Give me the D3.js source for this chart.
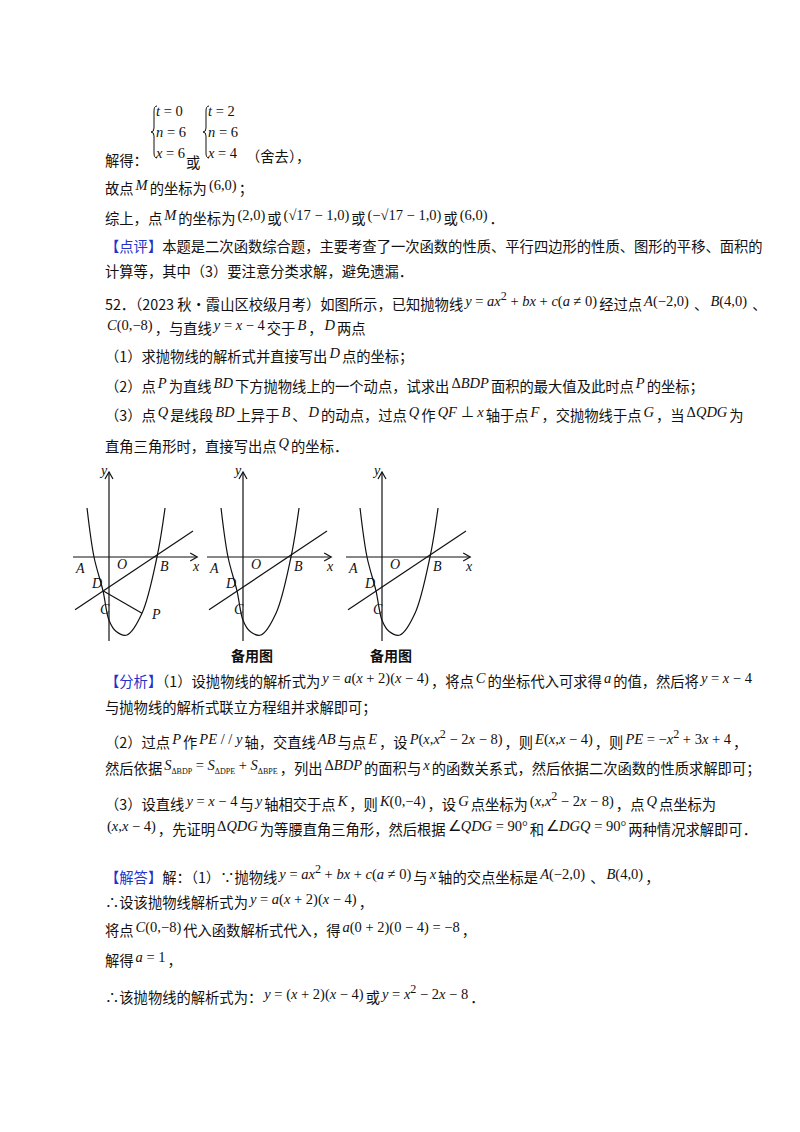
<!DOCTYPE html>
<html>
<head>
<meta charset="utf-8">
<title>52题</title>
<style>
  body { margin:0; width:800px; height:1132px; background:#fff; position:relative;
         font-family:"Noto Sans CJK SC", sans-serif; font-size:14.3px; color:#111; }
  .ln { position:absolute; left:105px; white-space:nowrap; line-height:20px; }
  .m { font-family:"Liberation Serif", serif; font-size:14.5px; position:relative; top:-4px; padding:0 2px; }
  .m i { font-style:italic; }
  .tag { color:#2233cc; }
  .fig text { font-family:"Liberation Serif", serif; font-style:italic; font-size:14px; fill:#111; }
  .fig .cap { font-family:"Noto Sans CJK SC", sans-serif; font-style:normal; font-size:14px; font-weight:bold; }
</style>
<script src="https://d3js.org/d3.v7.min.js"></script>
</head>
<body>
<script>
// text lines: [top, html]
var lines = [
  [150, '解得：'],
  [178, '故点<span class="m"><i>M</i></span>的坐标为<span class="m">(6,0)</span>；'],
  [208, '综上，点<span class="m"><i>M</i></span>的坐标为<span class="m">(2,0)</span>或<span class="m">(√17 − 1,0)</span>或<span class="m">(−√17 − 1,0)</span>或<span class="m">(6,0)</span>．'],
  [236, '<span class="tag">【点评】</span>本题是二次函数综合题，主要考查了一次函数的性质、平行四边形的性质、图形的平移、面积的'],
  [261, '计算等，其中（3）要注意分类求解，避免遗漏．'],
  [290, '52．（2023 秋•霞山区校级月考）如图所示，已知抛物线<span class="m"><i>y</i> = <i>ax</i><sup>2</sup> + <i>bx</i> + <i>c</i>(<i>a</i> ≠ 0)</span>经过点<span class="m"><i>A</i>(−2,0)</span> 、<span class="m"><i>B</i>(4,0)</span> 、'],
  [318, '<span class="m"><i>C</i>(0,−8)</span>，与直线<span class="m"><i>y</i> = <i>x</i> − 4</span>交于<span class="m"><i>B</i></span>，<span class="m"><i>D</i></span>两点'],
  [346, '（1）求抛物线的解析式并直接写出<span class="m"><i>D</i></span>点的坐标；'],
  [376, '（2）点<span class="m"><i>P</i></span>为直线<span class="m"><i>BD</i></span>下方抛物线上的一个动点，试求出<span class="m">Δ<i>BDP</i></span>面积的最大值及此时点<span class="m"><i>P</i></span>的坐标；'],
  [405, '（3）点<span class="m"><i>Q</i></span>是线段<span class="m"><i>BD</i></span>上异于<span class="m"><i>B</i></span>、<span class="m"><i>D</i></span>的动点，过点<span class="m"><i>Q</i></span>作<span class="m"><i>QF</i> ⊥ <i>x</i></span>轴于点<span class="m"><i>F</i></span>，交抛物线于点<span class="m"><i>G</i></span>，当<span class="m">Δ<i>QDG</i></span>为'],
  [436, '直角三角形时，直接写出点<span class="m"><i>Q</i></span>的坐标．'],
  [671, '<span class="tag">【分析】</span>（1）设抛物线的解析式为<span class="m"><i>y</i> = <i>a</i>(<i>x</i> + 2)(<i>x</i> − 4)</span>，将点<span class="m"><i>C</i></span>的坐标代入可求得<span class="m"><i>a</i></span>的值，然后将<span class="m"><i>y</i> = <i>x</i> − 4</span>'],
  [697, '与抛物线的解析式联立方程组并求解即可；'],
  [728, '（2）过点<span class="m"><i>P</i></span>作<span class="m"><i>PE</i> / / <i>y</i></span>轴，交直线<span class="m"><i>AB</i></span>与点<span class="m"><i>E</i></span>，设<span class="m"><i>P</i>(<i>x</i>,<i>x</i><sup>2</sup> − 2<i>x</i> − 8)</span>，则<span class="m"><i>E</i>(<i>x</i>,<i>x</i> − 4)</span>，则<span class="m"><i>PE</i> = −<i>x</i><sup>2</sup> + 3<i>x</i> + 4</span>，'],
  [758, '然后依据<span class="m"><i>S</i><sub style="font-size:8px">ΔBDP</sub> = <i>S</i><sub style="font-size:8px">ΔDPE</sub> + <i>S</i><sub style="font-size:8px">ΔBPE</sub></span>，列出<span class="m">Δ<i>BDP</i></span>的面积与<span class="m"><i>x</i></span>的函数关系式，然后依据二次函数的性质求解即可；'],
  [790, '（3）设直线<span class="m"><i>y</i> = <i>x</i> − 4</span>与<span class="m"><i>y</i></span>轴相交于点<span class="m"><i>K</i></span>，则<span class="m"><i>K</i>(0,−4)</span>，设<span class="m"><i>G</i></span>点坐标为<span class="m">(<i>x</i>,<i>x</i><sup>2</sup> − 2<i>x</i> − 8)</span>，点<span class="m"><i>Q</i></span>点坐标为'],
  [819, '<span class="m">(<i>x</i>,<i>x</i> − 4)</span>，先证明<span class="m">Δ<i>QDG</i></span>为等腰直角三角形，然后根据<span class="m">∠<i>QDG</i> = 90°</span>和<span class="m">∠<i>DGQ</i> = 90°</span>两种情况求解即可．'],
  [863, '<span class="tag">【解答】</span>解：（1）∵抛物线<span class="m"><i>y</i> = <i>ax</i><sup>2</sup> + <i>bx</i> + <i>c</i>(<i>a</i> ≠ 0)</span>与<span class="m"><i>x</i></span>轴的交点坐标是<span class="m"><i>A</i>(−2,0)</span> 、<span class="m"><i>B</i>(4,0)</span>，'],
  [892, '∴设该抛物线解析式为<span class="m"><i>y</i> = <i>a</i>(<i>x</i> + 2)(<i>x</i> − 4)</span>，'],
  [920, '将点<span class="m"><i>C</i>(0,−8)</span>代入函数解析式代入，得<span class="m"><i>a</i>(0 + 2)(0 − 4) = −8</span>，'],
  [950, '解得<span class="m"><i>a</i> = 1</span>，'],
  [983, '∴该抛物线的解析式为：<span class="m"><i>y</i> = (<i>x</i> + 2)(<i>x</i> − 4)</span>或<span class="m"><i>y</i> = <i>x</i><sup>2</sup> − 2<i>x</i> − 8</span>．']
];

var braceRows = [["<i>t</i> = 0", "<i>n</i> = 6", "<i>x</i> = 6"], ["<i>t</i> = 2", "<i>n</i> = 6", "<i>x</i> = 4"]];
var braceLefts = [150, 202];

// figure data (units of the drawn picture, not to scale)
var parabolaX = [-1.83, -1.25, -0.5, 0, 0.6, 1.5, 2.75, 4, 4.67];
var parabolaY = [5.65, 0, -3.9, -7.3, -8.6, -9, -6.5, 0, 5.65];
var lineX = [-2.83, 7];
var lineY = [-6.1, 3.0];
var pointD = [-0.5, -3.9], pointP = [2.75, -6.5];
var panelOrigins = [109, 243, 382];
var captions = ["", "备用图", "备用图"];

d3.select("body").selectAll("div.ln").data(lines).enter().append("div")
  .attr("class", "ln").style("top", function(d){ return d[0] + "px"; })
  .html(function(d){ return d[1]; });

// svg overlay for braces and figures
var svg = d3.select("body").append("svg").attr("class","fig")
  .style("position","absolute").style("left","0").style("top","0")
  .attr("width",800).attr("height",680);

// brace systems
braceRows.forEach(function(rows, k) {
  var left = braceLefts[k];
  var b = d3.select("body").append("div").style("position","absolute")
    .style("left", (left + 6) + "px").style("top", "101px")
    .style("font-family","Liberation Serif, serif").style("font-size","14.5px").style("line-height","21px");
  rows.forEach(function(r){ b.append("div").html(r); });
  var t = 106, bt = 158, mid = (t + bt) / 2, x = left + 4;
  svg.append("path").attr("fill","none").attr("stroke","#111").attr("stroke-width",1)
    .attr("d", "M" + (x+3) + "," + t + "Q" + x + "," + t + " " + x + "," + (t+5) +
      "L" + x + "," + (mid-4) + "Q" + x + "," + mid + " " + (x-3) + "," + mid +
      "Q" + x + "," + mid + " " + x + "," + (mid+4) + "L" + x + "," + (bt-5) +
      "Q" + x + "," + bt + " " + (x+3) + "," + bt);
});
d3.select("body").append("div").attr("class","ln").style("left","186px").style("top","152px").text("或");
d3.select("body").append("div").attr("class","ln").style("left","246px").style("top","146px").text("（舍去），");

var yS = d3.scaleLinear().domain([0, -9]).range([557, 635]);
var pts = parabolaX.map(function(x,i){ return [x, parabolaY[i]]; });
var linePts = lineX.map(function(x,i){ return [x, lineY[i]]; });

panelOrigins.forEach(function(ox, i) {
  var xS = d3.scaleLinear().domain([0, 4]).range([ox, ox + 48]);
  var g = svg.append("g").attr("fill","none").attr("stroke","#111").attr("stroke-width",1.2);
  var ln = d3.line().x(function(d){ return xS(d[0]); }).y(function(d){ return yS(d[1]); });
  // axes
  g.append("line").attr("x1", xS(-3)).attr("x2", xS(7.35)).attr("y1", yS(0)).attr("y2", yS(0));
  g.append("line").attr("x1", xS(0)).attr("x2", xS(0)).attr("y1", yS(-9.7)).attr("y2", yS(9.8));
  g.append("path").attr("d", "M" + (xS(7.35)-7) + "," + (yS(0)-4) + "L" + xS(7.35) + "," + yS(0) + "L" + (xS(7.35)-7) + "," + (yS(0)+4));
  g.append("path").attr("d", "M" + (xS(0)-4) + "," + (yS(9.8)+7) + "L" + xS(0) + "," + yS(9.8) + "L" + (xS(0)+4) + "," + (yS(9.8)+7));
  g.append("path").attr("d", d3.line().curve(d3.curveCatmullRom).x(function(d){ return xS(d[0]); }).y(function(d){ return yS(d[1]); })(pts));
  g.append("path").attr("d", ln(linePts));
  if (i === 0) g.append("path").attr("d", ln([pointD, pointP]));
  var lab = [["y",-8,-82],["A",-33,16],["O",8,12],["B",51,14],["x",84,14],["D",-17,31],["C",-9,57]];
  if (i === 0) lab.push(["P",43,62]);
  lab.forEach(function(l){ svg.append("text").attr("x", ox + l[1]).attr("y", 557 + l[2]).text(l[0]); });
  if (captions[i]) svg.append("text").attr("class","cap").attr("x", ox + 9).attr("y", 661).attr("text-anchor","middle").text(captions[i]);
});
</script>
</body>
</html>
